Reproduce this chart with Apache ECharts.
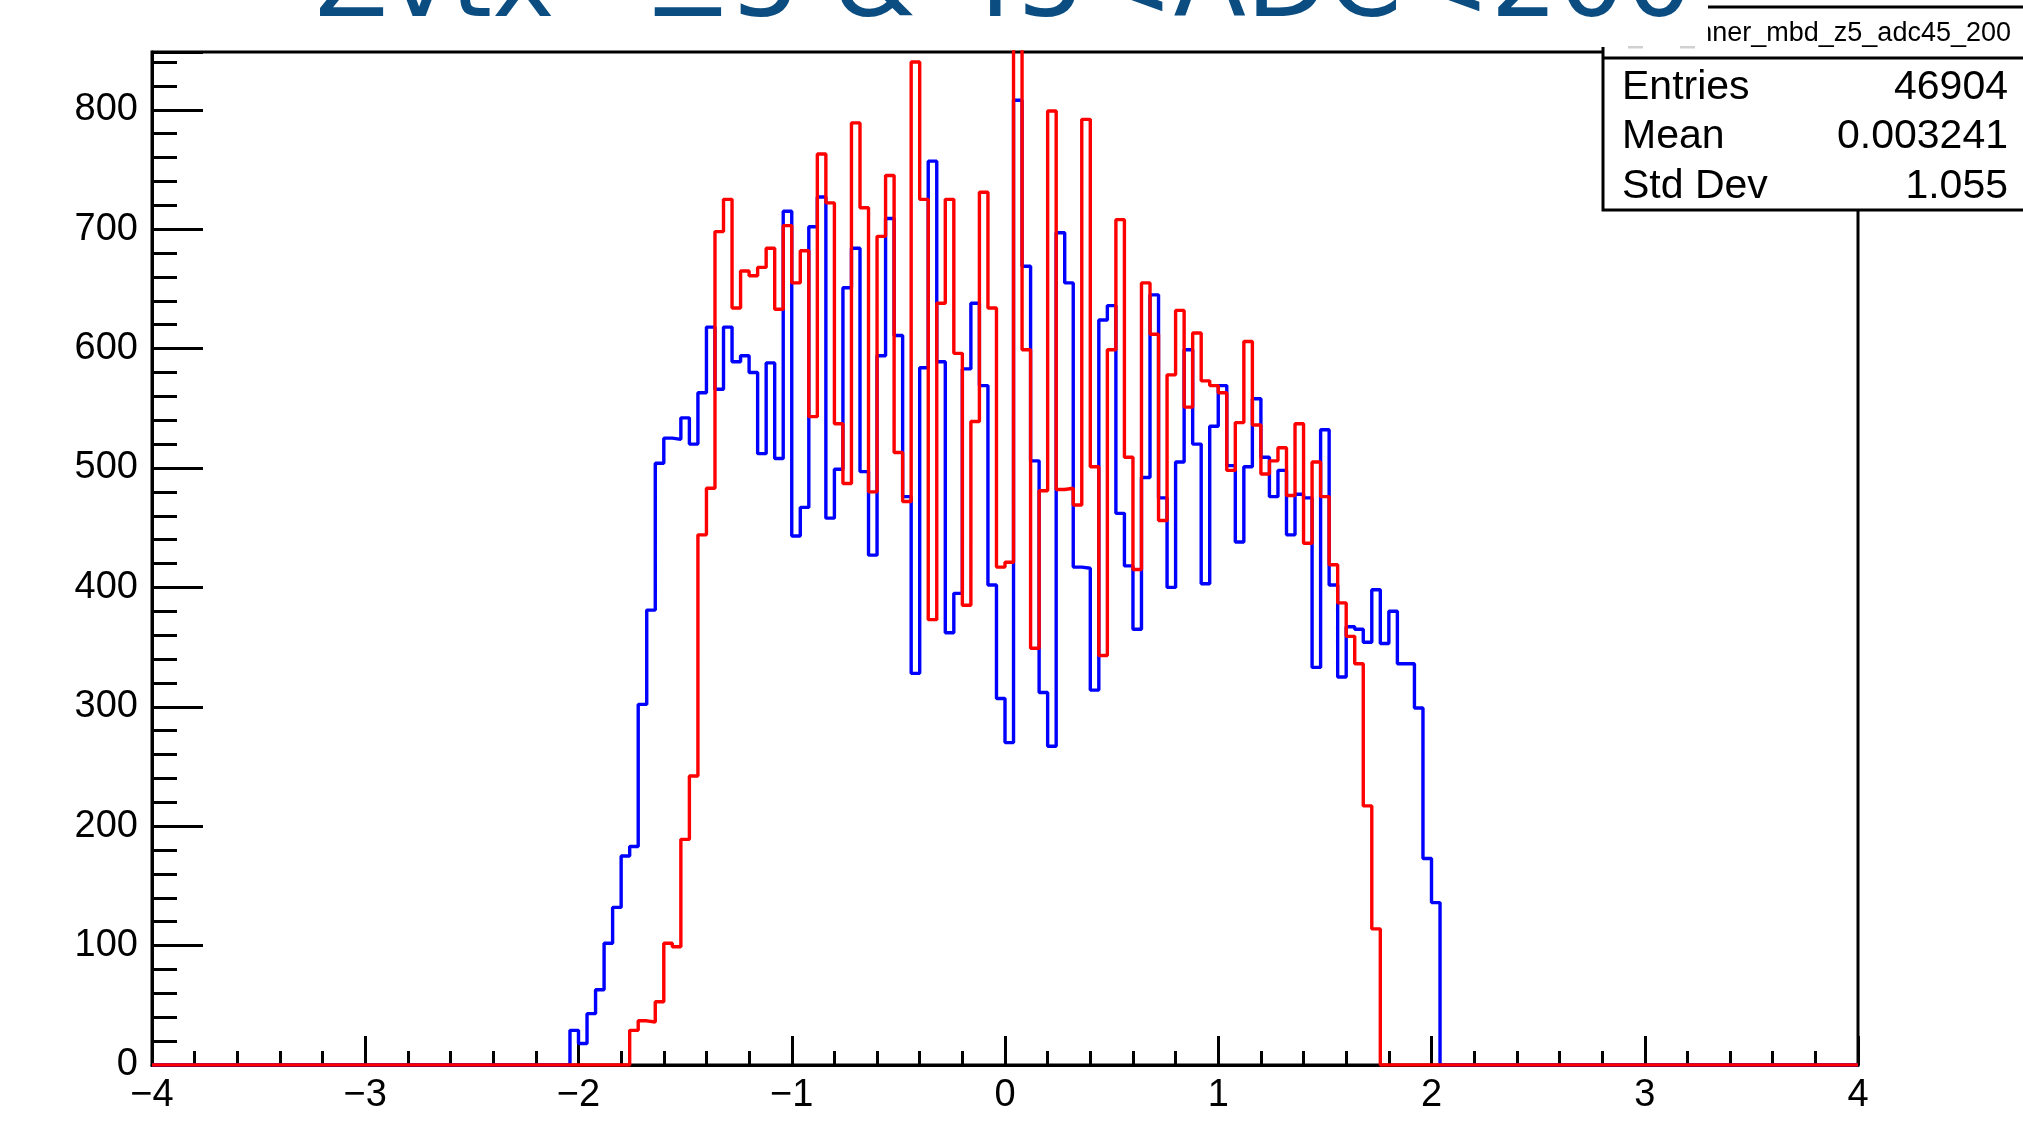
<!DOCTYPE html>
<html>
<head>
<meta charset="utf-8">
<script src="https://cdn.jsdelivr.net/npm/echarts@6/dist/echarts.min.js"></script>
<style>
  html, body { margin: 0; padding: 0; background: #ffffff; }
  #chart { width: 2023px; height: 1123px; }
</style>
</head>
<body>
<div id="chart"></div>
<script>
// Binning shared by both histograms: 200 bins of width 0.04 on [-4, 4]
const xMin = -4;
const xMax = 4;
const binWidth = 0.04;

// Blue histogram: bin contents from bin 49 (low edge -2.04) to bin 150
const blueFirstBin = 49;
const blueCounts = [
  29, 18, 43, 63, 102, 132, 175, 183, 302, 381,
  504, 525, 524, 542, 520, 563, 618, 566, 618, 589,
  594, 580, 512, 588, 508, 715, 443, 467, 702, 727,
  458, 499, 651, 684, 497, 427, 594, 709, 611, 476,
  328, 584, 757, 589, 362, 395, 583, 638, 569, 402,
  307, 270, 808, 669, 506, 312, 267, 697, 655, 417,
  416, 314, 624, 636, 462, 418, 365, 492, 645, 475,
  400, 505, 599, 520, 403, 535, 569, 502, 438, 501,
  558, 509, 476, 498, 444, 478, 475, 333, 532, 402,
  325, 367, 365, 354, 398, 353, 380, 336, 336, 299, 173, 136
];

// Red histogram: bin contents from bin 56 (low edge -1.76) to bin 143
const redFirstBin = 56;
const redCounts = [
  29, 37, 36, 53, 102, 99, 189, 242, 444, 483,
  698, 725, 634, 665, 661, 668, 684, 633, 703, 655,
  682, 543, 763, 722, 537, 487, 789, 718, 480, 694,
  745, 513, 472, 840, 725, 373, 638, 725, 596, 385,
  539, 731, 634, 417, 421, 870, 599, 349, 481, 799,
  482, 483, 469, 792, 501, 343, 599, 708, 509, 415,
  655, 612, 456, 578, 632, 551, 613, 573, 569, 563,
  498, 538, 606, 536, 495, 506, 517, 477, 537, 437,
  505, 476, 419, 387, 359, 336, 217, 114
];

// Axis setup
const yMax = 848.4;          // 1.05 x the largest blue bin
const xTickStep = 1;
const yTickStep = 100;

// Statistics box
const histName = 'nner_mbd_z5_adc45_200';
const statLabels = ['Entries', 'Mean', 'Std Dev'];
const statValues = ['46904', '0.003241', '1.055'];

const titleText = 'Zvtx=\u00b15 & 45<ADC<200';

// Turn bin contents into step-line vertices at each bin's low edge
function histPoints(firstBin, counts) {
  const nBins = Math.round((xMax - xMin) / binWidth);
  const pts = [];
  let v = 0;
  for (let i = 0; i < nBins; i++) {
    const j = i - firstBin;
    v = (j >= 0 && j < counts.length) ? counts[j] : 0;
    pts.push([+(xMin + i * binWidth).toFixed(4), v]);
  }
  pts.push([xMax, v]);
  return pts;
}

const minusFmt = v => (v < 0 ? '\u2212' + (-v) : String(v));
const black = '#000000';
const labelFont = 'Liberation Sans, Arial, Helvetica, sans-serif';

const chart = echarts.init(document.getElementById('chart'), null, { renderer: 'canvas' });

const statRowY = [88, 137, 187];
const statGraphics = [];
statLabels.forEach((lab, i) => {
  statGraphics.push({
    type: 'text', z: 110, x: 1622, y: statRowY[i],
    style: { text: lab, fill: black, font: '41px ' + labelFont, align: 'left', verticalAlign: 'middle' }
  });
  statGraphics.push({
    type: 'text', z: 110, x: 2008, y: statRowY[i],
    style: { text: statValues[i], fill: black, font: '41px ' + labelFont, align: 'right', verticalAlign: 'middle' }
  });
});

chart.setOption({
  animation: false,
  backgroundColor: '#ffffff',
  grid: {
    left: 152, right: 165, top: 52, bottom: 58,
    show: true, borderColor: black, borderWidth: 3, backgroundColor: 'transparent'
  },
  xAxis: {
    type: 'value',
    min: xMin, max: xMax, interval: xTickStep,
    axisLine: { show: true, onZero: false, lineStyle: { color: black, width: 3 } },
    axisTick: { show: true, inside: true, length: 29, lineStyle: { color: black, width: 3 } },
    minorTick: { show: true, splitNumber: 5, length: 14, lineStyle: { color: black, width: 3 } },
    splitLine: { show: false },
    minorSplitLine: { show: false },
    axisLabel: {
      color: black, fontFamily: labelFont, fontSize: 38, margin: 12,
      formatter: minusFmt
    }
  },
  yAxis: {
    type: 'value',
    min: 0, max: yMax, interval: yTickStep,
    axisLine: { show: true, onZero: false, lineStyle: { color: black, width: 3 } },
    axisTick: { show: true, inside: true, length: 51, lineStyle: { color: black, width: 3 } },
    minorTick: { show: true, splitNumber: 5, length: 25, lineStyle: { color: black, width: 3 } },
    splitLine: { show: false },
    minorSplitLine: { show: false },
    axisLabel: {
      color: black, fontFamily: labelFont, fontSize: 38, margin: 14,
      showMaxLabel: false
    }
  },
  series: [
    {
      type: 'line', name: 'blue', step: 'end', symbol: 'none', clip: true,
      data: histPoints(blueFirstBin, blueCounts),
      lineStyle: { color: '#0000ff', width: 3.4 }, z: 3
    },
    {
      type: 'line', name: 'red', step: 'end', symbol: 'none', clip: true,
      data: histPoints(redFirstBin, redCounts),
      lineStyle: { color: '#ff0000', width: 3.4 }, z: 4
    }
  ],
  graphic: [
    // statistics box
    {
      type: 'rect', z: 100,
      shape: { x: 1603, y: 7, width: 440, height: 203 },
      style: { fill: '#ffffff', stroke: black, lineWidth: 3 }
    },
    {
      type: 'line', z: 101,
      shape: { x1: 1603, y1: 58, x2: 2030, y2: 58 },
      style: { stroke: black, lineWidth: 3 }
    },
    {
      type: 'text', z: 105, x: 2011, y: 34,
      style: { text: histName, fill: black, font: '27px ' + labelFont, align: 'right', verticalAlign: 'middle' }
    },
    ...statGraphics,
    // title pad, drawn over the top of the statistics box
    {
      type: 'rect', z: 120,
      shape: { x: 0, y: 0, width: 1708, height: 47 },
      style: { fill: '#ffffff' }
    },
    {
      type: 'rect', z: 121,
      shape: { x: 1628, y: 46, width: 15, height: 2.5 },
      style: { fill: '#d0d0d0' }
    },
    {
      type: 'rect', z: 121,
      shape: { x: 1680, y: 46, width: 15, height: 2.5 },
      style: { fill: '#d0d0d0' }
    },
    {
      type: 'text', z: 125, x: 1004, y: -12,
      style: {
        text: titleText, fill: '#0b4d80',
        font: '106px "DejaVu Sans", sans-serif', align: 'center', verticalAlign: 'middle'
      }
    }
  ]
});
</script>
</body>
</html>
